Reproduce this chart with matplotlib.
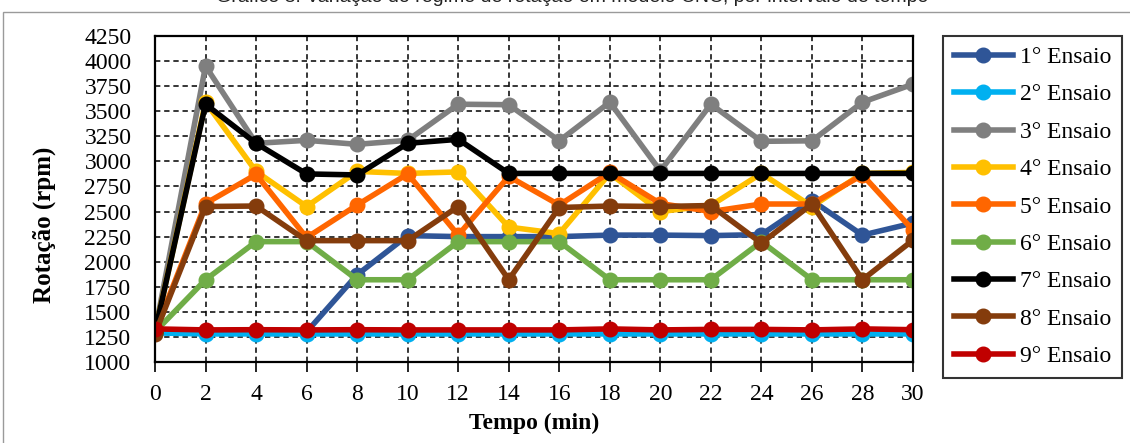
import matplotlib.pyplot as plt
from matplotlib.patches import Rectangle

# Tempo (min)
tempo = [0, 2, 4, 6, 8, 10, 12, 14, 16, 18, 20, 22, 24, 26, 28, 30]

# Rotação (rpm) por ensaio
ensaio1 = [1300, 1300, 1300, 1300, 1870, 2260, 2250, 2250, 2250, 2265, 2265, 2260, 2270, 2610, 2265, 2385]
ensaio2 = [1290, 1280, 1280, 1280, 1280, 1280, 1280, 1280, 1280, 1280, 1280, 1280, 1280, 1280, 1280, 1280]
ensaio3 = [1300, 3950, 3180, 3210, 3170, 3210, 3570, 3565, 3205, 3590, 2905, 3570, 3200, 3205, 3590, 3770]
ensaio4 = [1300, 3590, 2900, 2550, 2900, 2880, 2895, 2345, 2280, 2880, 2500, 2560, 2880, 2550, 2880, 2890]
ensaio5 = [1300, 2580, 2870, 2240, 2565, 2875, 2265, 2850, 2565, 2890, 2580, 2500, 2575, 2575, 2865, 2315]
ensaio6 = [1300, 1820, 2200, 2200, 1820, 1820, 2200, 2200, 2200, 1820, 1820, 1820, 2200, 1820, 1820, 1820]
ensaio7 = [1300, 3570, 3180, 2875, 2865, 3180, 3220, 2880, 2880, 2880, 2880, 2880, 2880, 2880, 2880, 2880]
ensaio8 = [1280, 2550, 2555, 2210, 2210, 2210, 2550, 1820, 2540, 2555, 2550, 2560, 2185, 2575, 1820, 2215]
ensaio9 = [1330, 1320, 1322, 1320, 1322, 1320, 1320, 1320, 1320, 1330, 1320, 1325, 1325, 1320, 1330, 1322]

series = [ensaio1, ensaio2, ensaio3, ensaio4, ensaio5, ensaio6, ensaio7, ensaio8, ensaio9]
labels = ['%d° Ensaio' % (i + 1) for i in range(9)]
colors = ['#2F5597', '#00B0F0', '#7F7F7F', '#FFC000', '#FF6600',
          '#70AD47', '#000000', '#843C0C', '#C00000']

plt.rcParams['font.family'] = ['Liberation Serif', 'DejaVu Serif']

fig = plt.figure(figsize=(11.3, 4.43), dpi=100)
W, H = 1130, 443

# moldura do gráfico
fig.patches.append(Rectangle((3 / W, -0.1), 1.2, 1 - 12 / H + 0.1,
                             transform=fig.transFigure, fill=False,
                             edgecolor='#9a9a9a', lw=1.0))

# título (cortado no topo da imagem, como na referência)
fig.text(572 / W, 1 - 1.5 / H,
         'Gráfico 3: Variação do regime de rotação em modelo CNC, por intervalo de tempo',
         ha='center', va='baseline', fontsize=14, family=['Liberation Sans', 'DejaVu Sans'],
         color='#222222')

ax = fig.add_axes([155 / W, 1 - 362 / H, (913 - 155) / W, (362 - 36) / H])

for vals, lab, col in zip(series, labels, colors):
    ax.plot(tempo, vals, '-o', color=col, lw=4.0, ms=10.5, label=lab)

ax.set_xlim(0, 30)
ax.set_ylim(1000, 4250)
ax.set_xticks(tempo)
ax.set_yticks(range(1000, 4251, 250))
ax.grid(True, color='black', linestyle=(0, (3.5, 2.5)), lw=1.1)
ax.set_axisbelow(True)

for sp in ax.spines.values():
    sp.set_linewidth(1.6)
    sp.set_color('black')

ax.tick_params(axis='x', direction='out', length=7, width=1.2, pad=9, labelsize=17)
ax.tick_params(axis='y', length=0, pad=17, labelsize=17)

ax.set_xlabel('Tempo (min)', fontsize=17, fontweight='bold')
ax.set_ylabel('Rotação (rpm)', fontsize=18, fontweight='bold')
ax.xaxis.set_label_coords(0.5, (362 - 423) / 326)
ax.yaxis.set_label_coords((44 - 155) / 758, (362 - 225) / 326)
ax.xaxis.label.set_va('center')
ax.yaxis.label.set_va('center')

leg = fig.legend(loc='upper left', bbox_to_anchor=(943 / W, 1 - 36 / H),
                 fontsize=17, frameon=True, fancybox=False, edgecolor='black',
                 labelspacing=0.67, handlelength=2.5, handletextpad=0.3,
                 borderpad=0.45, borderaxespad=0)
leg.get_frame().set_linewidth(1.5)

fig.savefig('out.png', dpi=100)
